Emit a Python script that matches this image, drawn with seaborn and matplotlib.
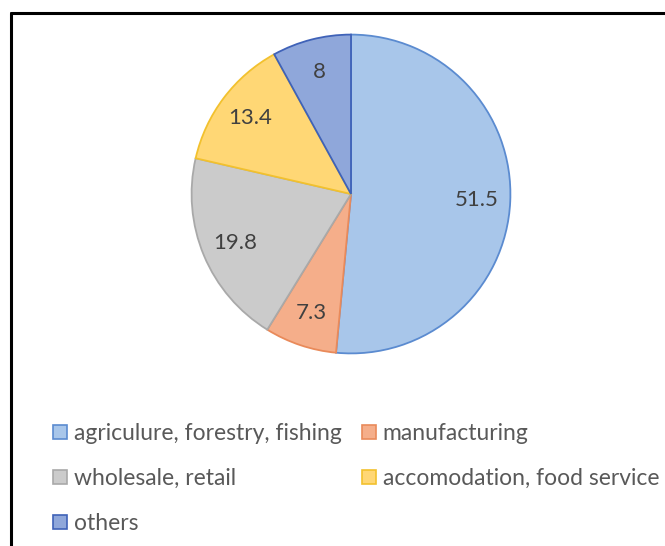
import matplotlib
matplotlib.use("Agg")
import matplotlib.pyplot as plt
import seaborn as sns
from matplotlib.lines import Line2D
from matplotlib.patches import Patch

# Share of workers by sector (%)
sectors = ["agriculure, forestry, fishing", "manufacturing", "wholesale, retail",
           "accomodation, food service", "others"]
shares = [51.5, 7.3, 19.8, 13.4, 8]
labels = ["51.5", "7.3", "19.8", "13.4", "8"]

fills = ["#A8C6EA", "#F5AE8A", "#CBCBCB", "#FFD775", "#8FA7DA"]
edges = ["#5B8BD0", "#E98A5A", "#A9A9A9", "#F2C12E", "#3F62B8"]

sns.set_theme(style="white")
plt.rcParams["font.family"] = ["Lato", "DejaVu Sans"]

W, H = 665, 546
fig = plt.figure(figsize=(W / 100, H / 100), dpi=100)
fig.patch.set_facecolor("white")

# pie axes: centre (351, 194) px, radius 161 px
cx, cy, r = 351, 194, 161
ax = fig.add_axes([(cx - r) / W, (H - cy - r) / H, 2 * r / W, 2 * r / H])

wedges, texts = ax.pie(
    shares,
    labels=labels,
    colors=sns.color_palette(fills),
    startangle=90,
    counterclock=False,
    labeldistance=0.79,
    wedgeprops=dict(linewidth=1.3),
    textprops=dict(color="#404040", fontsize=16, ha="center", va="center"),
)
for w, ec in zip(wedges, edges):
    w.set_edgecolor(ec)
ax.set_xlim(-1.01, 1.01)
ax.set_ylim(-1.01, 1.01)
ax.set_aspect("auto")
ax.axis("off")

# legend, laid out row by row across two columns
handles = [Patch(facecolor=f, edgecolor=e, linewidth=1.2) for f, e in zip(fills, edges)]
order = [0, 2, 4, 1, 3]
leg = fig.legend(
    [handles[i] for i in order],
    [sectors[i] for i in order],
    ncol=2,
    loc="upper left",
    bbox_to_anchor=(53 / W, 1 - 423 / H),
    frameon=False,
    fontsize=16.5,
    labelcolor="#595959",
    handlelength=0.6,
    handleheight=0.6,
    handletextpad=0.3,
    columnspacing=0.9,
    labelspacing=1.05,
    borderpad=0,
    borderaxespad=0,
)

# outer frame, left and top edges
fig.add_artist(Line2D([11 / W, 11 / W], [0, 1 - 13 / H], color="black", lw=2.2,
                      transform=fig.transFigure))
fig.add_artist(Line2D([11 / W, 1], [1 - 13 / H, 1 - 13 / H], color="black", lw=2.2,
                      transform=fig.transFigure))

fig.savefig("out.png", dpi=100, facecolor="white")
